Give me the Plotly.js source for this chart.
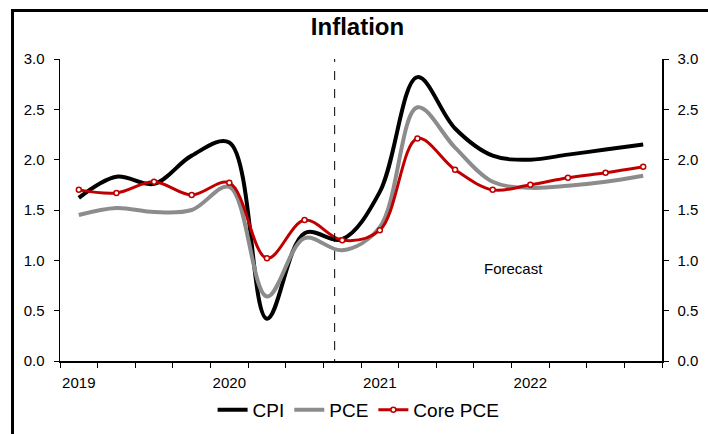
<!DOCTYPE html>
<html>
<head>
<meta charset="utf-8">
<script src="https://cdn.plot.ly/plotly-3.0.1.min.js"></script>
<style>html,body{margin:0;padding:0;background:#fff;}#chart{width:708px;height:434px;}</style>
</head>
<body>
<div id="chart"></div>
<script>
const quarters = ['2019Q1','2019Q2','2019Q3','2019Q4','2020Q1','2020Q2','2020Q3','2020Q4',
                  '2021Q1','2021Q2','2021Q3','2021Q4','2022Q1','2022Q2','2022Q3','2022Q4'];
const yearLabels = ['2019','2020','2021','2022'];
const cpi     = [1.62,1.83,1.76,2.04,2.17,0.42,1.27,1.21,1.68,2.82,2.31,2.04,2.00,2.05,2.10,2.15];
const pce     = [1.45,1.52,1.48,1.50,1.73,0.64,1.22,1.10,1.33,2.52,2.12,1.78,1.72,1.74,1.78,1.84];
const corePce = [1.70,1.67,1.78,1.65,1.77,1.02,1.40,1.20,1.30,2.21,1.90,1.70,1.75,1.82,1.87,1.93];
const forecastStart = 6.8;
const yTicks = [0,0.5,1,1.5,2,2.5,3];

const xIdx = quarters.map((q,i)=>i);
const yearIdx = yearLabels.map(y => quarters.indexOf(y+'Q1'));
const FONT = 'Liberation Sans, Arial, sans-serif';

const traces = [
  {x:xIdx, y:cpi, name:'CPI', type:'scatter', mode:'lines',
   line:{color:'#000000', width:4, shape:'spline', smoothing:1}},
  {x:xIdx, y:pce, name:'PCE', type:'scatter', mode:'lines',
   line:{color:'#8c8c8c', width:4, shape:'spline', smoothing:1}},
  {x:xIdx, y:corePce, name:'Core PCE', type:'scatter', mode:'lines+markers',
   line:{color:'#c00000', width:3, shape:'spline', smoothing:1},
   marker:{symbol:'circle', size:5, color:'#ffffff', line:{color:'#c00000', width:1.5}}},
  {x:[xIdx[0]], y:[cpi[0]], yaxis:'y2', showlegend:false, mode:'markers', marker:{opacity:0}, hoverinfo:'skip'}
];

const yaxisCommon = {
  range:[0,3], tickvals:yTicks, tickformat:'.1f', showgrid:false, zeroline:false,
  showline:true, linecolor:'#000', linewidth:1.5, ticks:'outside', ticklen:5, tickcolor:'#000',
  tickfont:{family:FONT, size:15, color:'#000'}, ticklabelstandoff:6, fixedrange:true
};

const layout = {
  width:708, height:434,
  margin:{l:59.5, r:46.3, t:59, b:73, autoexpand:false},
  paper_bgcolor:'#ffffff', plot_bgcolor:'#ffffff',
  font:{family:FONT, color:'#000'},
  title:{text:'<b>Inflation</b>', font:{family:FONT, size:24, color:'#000'},
         x:357.5/708, xanchor:'center', xref:'container', y:1-27/434, yanchor:'middle', yref:'container'},
  xaxis:{range:[-0.5,15.5], tickvals:yearIdx, ticktext:yearLabels, ticks:'', showgrid:false, zeroline:false,
         showline:true, linecolor:'#000', linewidth:1.5,
         tickfont:{family:FONT, size:15, color:'#000'}, ticklabelstandoff:7,
         minor:{tick0:-0.5, dtick:1, ticks:'outside', ticklen:5, tickcolor:'#000', tickwidth:1, showgrid:false},
         fixedrange:true},
  yaxis:Object.assign({}, yaxisCommon, {side:'left'}),
  yaxis2:Object.assign({}, yaxisCommon, {side:'right', overlaying:'y'}),
  showlegend:true,
  legend:{orientation:'h', x:0.496, xanchor:'center', y:-0.162, yanchor:'middle',
          font:{family:FONT, size:19, color:'#000'}, bgcolor:'rgba(0,0,0,0)', traceorder:'normal'},
  shapes:[
    {type:'line', xref:'x', yref:'y', x0:forecastStart, x1:forecastStart, y0:-0.07, y1:3.01,
     line:{color:'#000', width:1, dash:'dash'}},
    {type:'rect', xref:'paper', yref:'paper', x0:(12-59.5)/602.2, x1:(720-59.5)/602.2,
     y0:(361-450)/302, y1:(361-10.5)/302, line:{color:'#000', width:3}, fillcolor:'rgba(0,0,0,0)'}
  ],
  annotations:[
    {text:'Forecast', xref:'x', yref:'y', x:11.55, y:0.92, showarrow:false,
     font:{family:FONT, size:15, color:'#000'}, xanchor:'center', yanchor:'middle'}
  ]
};

Plotly.newPlot('chart', traces, layout, {staticPlot:true, displayModeBar:false});
</script>
</body>
</html>
